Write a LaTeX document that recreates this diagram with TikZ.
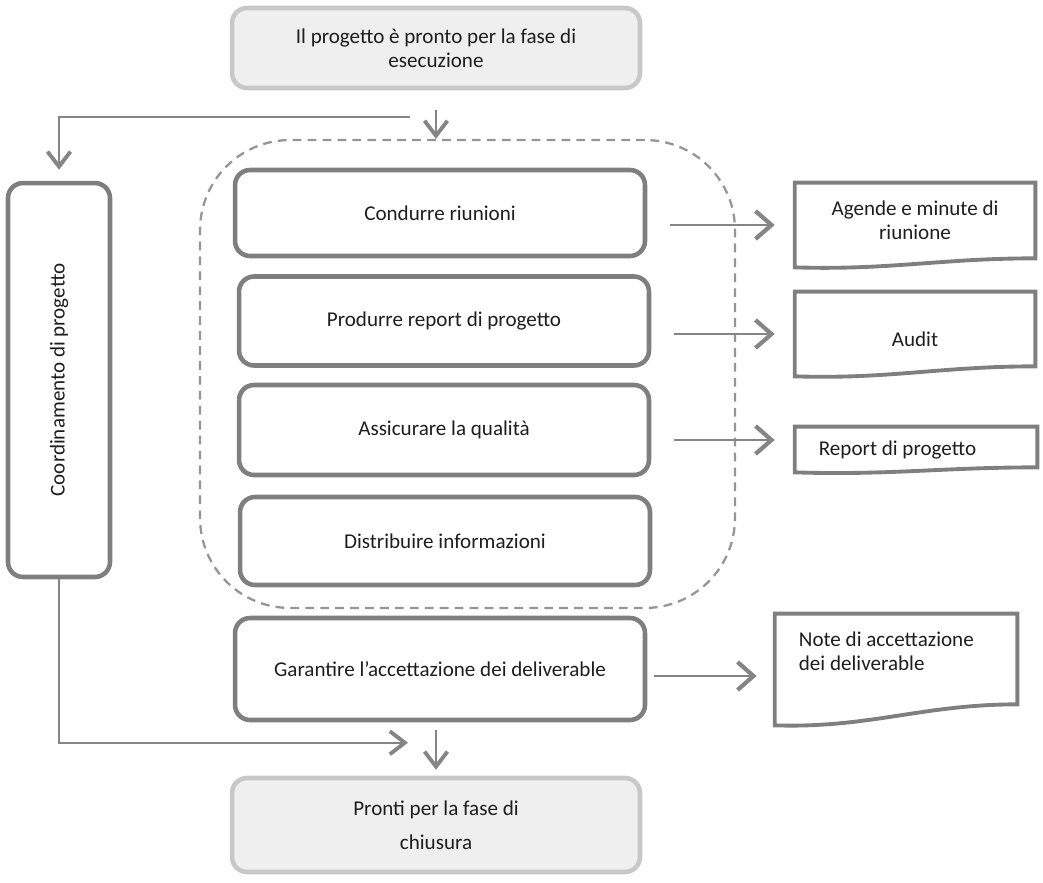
\documentclass[tikz,border=0pt]{standalone}
\usepackage{fontspec}
\setmainfont{Carlito}
\usepackage{xcolor}
\usetikzlibrary{positioning,calc,arrows.meta}

\definecolor{boxgray}{HTML}{7F7F7F}
\definecolor{phaseline}{HTML}{C8C8C8}
\definecolor{phasefill}{HTML}{EFEFEF}
\definecolor{linegray}{HTML}{858585}
\definecolor{dashgray}{HTML}{959595}
\definecolor{txtgray}{HTML}{1E1E1E}

% outline of a document: node name, rise of the lower right corner
\newcommand{\docoutline}[2]{%
  \draw[docline] (#1.north west) -- (#1.north east) -- ([yshift=#2]#1.south east)
    .. controls ([xshift=-1.9cm,yshift=#2]#1.south east) and ([xshift=1.9cm,yshift=-0.06cm]#1.south west)
    .. (#1.south west) -- cycle;}

\begin{document}
\begin{tikzpicture}[x=0.02cm, y=-0.02cm,
    font=\fontsize{12}{13.5}\selectfont, text=txtgray,
    phase/.style={draw=phaseline, fill=phasefill, line width=2.6pt, rounded corners=0.3cm,
      minimum width=8.16cm, align=center},
    task/.style={draw=boxgray, fill=white, line width=2.6pt, rounded corners=0.3cm,
      minimum width=8.2cm, align=center},
    docbox/.style={minimum width=4.8cm, inner sep=0pt},
    docline/.style={draw=boxgray, line width=2.2pt, line join=miter},
    flowline/.style={draw=linegray, line width=1.1pt},
    downarrow/.style={flowline, -{Straight Barb[length=0.3cm,width=0.46cm,line width=2.2pt]}},
    outarrow/.style={flowline, -{Straight Barb[length=0.32cm,width=0.56cm,line width=2.4pt]},
      shorten <=0.46cm, shorten >=0.4cm}]

    \useasboundingbox (0,0) rectangle (1043,882);

    % Phases
    \node [phase, minimum height=1.6cm] (start) at (436,48) {Il progetto è pronto per la fase di\\esecuzione};
    \node [phase, minimum height=1.88cm] (close) at (436,825) {Pronti per la fase di\\[6pt]chiusura};

    % Coordination
    \node [draw=boxgray, line width=2.6pt, rounded corners=0.3cm, minimum width=2.04cm, minimum height=7.88cm] (coord) at (59,380) {};
    \node [rotate=90] at (coord) {Coordinamento di progetto};

    % Group of activities
    \node [draw=dashgray, line width=1.3pt, dash pattern=on 5pt off 3.5pt, rounded corners=1.8cm,
      minimum width=10.7cm, minimum height=9.36cm] (group) at (467.5,374) {};

    % Activities
    \node [task, minimum height=1.72cm] (meet) at (440,213) {Condurre riunioni};
    \node [task, minimum height=1.78cm] (report) at (444,321) {Produrre report di progetto};
    \node [task, minimum height=1.8cm] (quality) at (444,430) {Assicurare la qualità};
    \node [task, minimum height=1.76cm] (inform) at (445,541) {Distribuire informazioni};
    \node [task, minimum height=2.04cm] (accept) at (440,669) {Garantire l’accettazione dei deliverable};

    % Documents
    \node [docbox, minimum height=1.68cm] (agenda) at (915,225) {};
    \node [align=center] at ([yshift=0.1cm]agenda.center) {Agende e minute di\\riunione};
    \node [docbox, minimum height=1.68cm] (audit) at (915,334) {};
    \node at ([yshift=-0.1cm]audit.center) {Audit};
    \node [docbox, minimum width=4.84cm, minimum height=0.9cm] (prjrep) at (916,449.5) {};
    \node [anchor=west] at ([xshift=0.36cm]prjrep.west) {Report di progetto};
    \node [docbox, minimum width=4.84cm, minimum height=2.22cm] (notes) at (896,669.5) {};
    \node [anchor=north west, align=left] at ([xshift=0.36cm,yshift=-0.24cm]notes.north west) {Note di accettazione\\dei deliverable};

    \docoutline{agenda}{0.18cm}
    \docoutline{audit}{0.2cm}
    \docoutline{prjrep}{0.1cm}
    \docoutline{notes}{0.42cm}

    % Connections
    \draw [downarrow] ([yshift=-0.4cm]start.south) -- (start.south |- group.north);
    \draw [downarrow] ([xshift=-0.52cm,yshift=-0.54cm]start.south) -| ([yshift=0.22cm]coord.north);
    \draw [outarrow] (meet.east |- agenda.west) -- (agenda.west);
    \draw [outarrow] (report.east |- audit.west) -- (audit.west);
    \draw [outarrow] ([yshift=-0.2cm]quality.east) -- ([yshift=-0.2cm]quality.east -| prjrep.west);
    \draw [outarrow, shorten <=0.14cm, shorten >=0.36cm] ([yshift=-0.14cm]accept.east) -- ([yshift=-0.14cm]accept.east -| notes.west);
    \draw [downarrow] (coord.south) |- ([xshift=-0.56cm,yshift=0.66cm]close.north);
    \draw [downarrow] ($(accept.south -| close.north)+(0,-0.16cm)$) -- ([yshift=0.12cm]close.north);

\end{tikzpicture}
\end{document}
